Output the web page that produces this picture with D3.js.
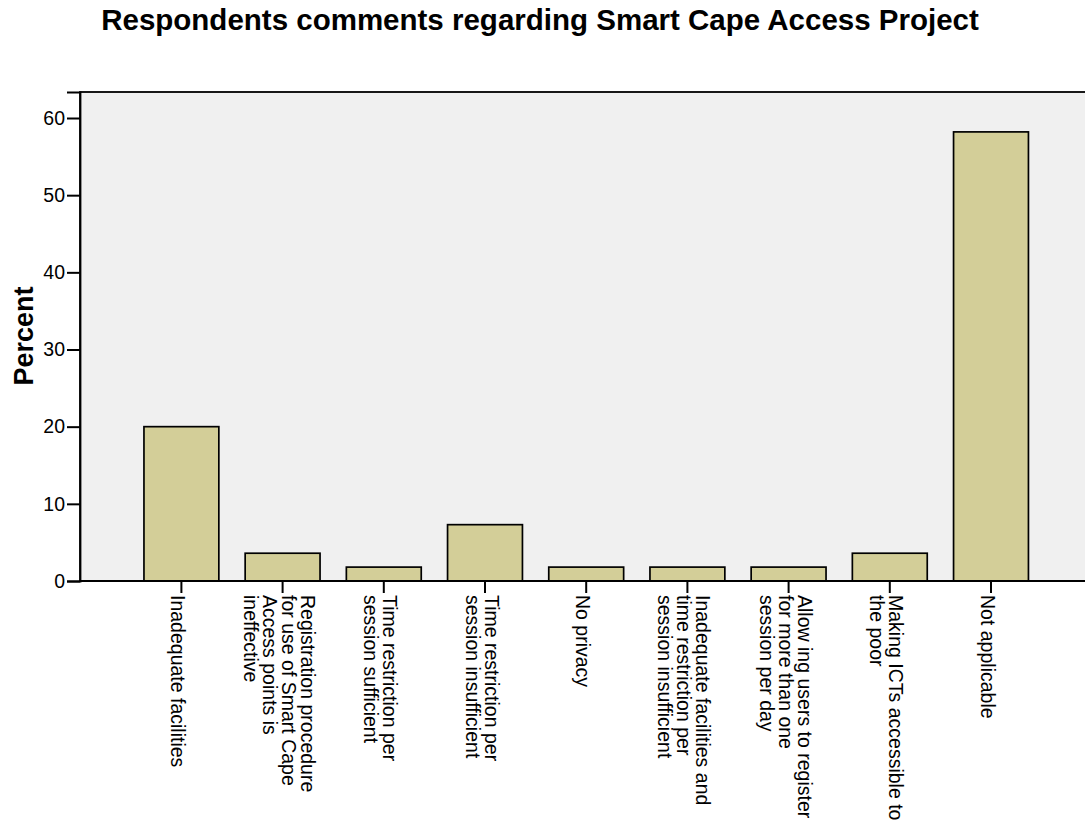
<!DOCTYPE html>
<html>
<head>
<meta charset="utf-8">
<script src="https://cdn.jsdelivr.net/npm/d3@7/dist/d3.min.js"></script>
<style>
  html, body { margin: 0; padding: 0; background: #ffffff; }
  svg { display: block; font-family: "Liberation Sans", Arial, sans-serif; }
</style>
</head>
<body>
<svg id="chart" width="1085" height="825"></svg>
<script>
// Survey responses (percent of respondents)
const categories = [
  "Inadequate facilities",
  "Registration procedure for use of Smart Cape Access points is ineffective",
  "Time restriction per session sufficient",
  "Time restriction per session insufficient",
  "No privacy",
  "Inadequate facilities and time restriction per session insufficient",
  "Allow ing users to register for more than one session per day",
  "Making ICTs accessible to the poor",
  "Not applicable"
];
const categoryLines = [
  ["Inadequate facilities"],
  ["Registration procedure", "for use of Smart Cape", "Access points is", "ineffective"],
  ["Time restriction per", "session sufficient"],
  ["Time restriction per", "session insufficient"],
  ["No privacy"],
  ["Inadequate facilities and", "time restriction per", "session insufficient"],
  ["Allow ing users to register", "for more than one", "session per day"],
  ["Making ICTs accessible to", "the poor"],
  ["Not applicable"]
];
const percents = [20.0, 3.6, 1.8, 7.3, 1.8, 1.8, 1.8, 3.6, 58.2];
const yTicks = [0, 10, 20, 30, 40, 50, 60];

const title = "Respondents comments regarding Smart Cape Access Project";
const yTitle = "Percent";

const svg = d3.select("#chart");

const plot = { left: 80, top: 92, right: 1100, bottom: 581 };

const x = d3.scaleBand()
  .domain(categories)
  .range([130.8, 130.8 + 9 * 101.2])
  .paddingInner(0.26)
  .paddingOuter(0.13);

const y = d3.scaleLinear()
  .domain([0, 63.37])
  .range([plot.bottom, plot.top]);

// Title
svg.append("text")
  .attr("x", 540)
  .attr("y", 30)
  .attr("text-anchor", "middle")
  .attr("font-size", 29.5)
  .attr("font-weight", "bold")
  .attr("fill", "#000")
  .text(title);

// Plot background
svg.append("rect")
  .attr("x", plot.left)
  .attr("y", plot.top)
  .attr("width", plot.right - plot.left)
  .attr("height", plot.bottom - plot.top)
  .attr("fill", "#f0f0f0")
  .attr("stroke", "#000")
  .attr("stroke-width", 1.8);

// Bars
svg.append("g")
  .selectAll("rect")
  .data(categories)
  .join("rect")
  .attr("x", d => x(d))
  .attr("width", x.bandwidth())
  .attr("y", (d, i) => y(percents[i]))
  .attr("height", (d, i) => y(0) - y(percents[i]))
  .attr("fill", "#d3ce98")
  .attr("stroke", "#000")
  .attr("stroke-width", 1.7);

// Y axis
const yAxis = svg.append("g")
  .attr("transform", `translate(${plot.left},0)`)
  .call(d3.axisLeft(y).tickValues(yTicks).tickSize(13).tickPadding(2).tickFormat(d3.format("d")));
yAxis.select(".domain").attr("stroke", "#000").attr("stroke-width", 1.8);
yAxis.selectAll(".tick line").attr("stroke", "#000").attr("stroke-width", 2);
yAxis.selectAll(".tick text")
  .attr("font-size", 19.5)
  .attr("font-family", "Liberation Sans, Arial, sans-serif")
  .attr("fill", "#000");

// X axis baseline and ticks
const xAxis = svg.append("g")
  .attr("transform", `translate(0,${plot.bottom})`)
  .call(d3.axisBottom(x).tickSize(12).tickFormat(""));
xAxis.select(".domain").remove();
xAxis.selectAll(".tick line").attr("stroke", "#000").attr("stroke-width", 2);
svg.append("line")
  .attr("x1", plot.left).attr("x2", plot.right)
  .attr("y1", plot.bottom).attr("y2", plot.bottom)
  .attr("stroke", "#000").attr("stroke-width", 2);

// Rotated category labels, stacked lines centred on each tick
const lineStep = 19;
const labels = svg.append("g");
categories.forEach((c, i) => {
  const lines = categoryLines[i];
  const n = lines.length;
  const cx = x(c) + x.bandwidth() / 2;
  const g = labels.append("g")
    .attr("transform", `translate(${cx},595) rotate(90)`);
  const y0 = 10 - (lineStep / 2) * (n - 1);
  lines.forEach((t, k) => {
    g.append("text")
      .attr("x", 0)
      .attr("y", y0 + k * lineStep)
      .attr("font-size", 19.5)
      .attr("fill", "#000")
      .text(t);
  });
});

// Y axis title
svg.append("text")
  .attr("transform", "translate(33,336) rotate(-90)")
  .attr("text-anchor", "middle")
  .attr("font-size", 27)
  .attr("font-weight", "bold")
  .attr("fill", "#000")
  .text(yTitle);
</script>
</body>
</html>
